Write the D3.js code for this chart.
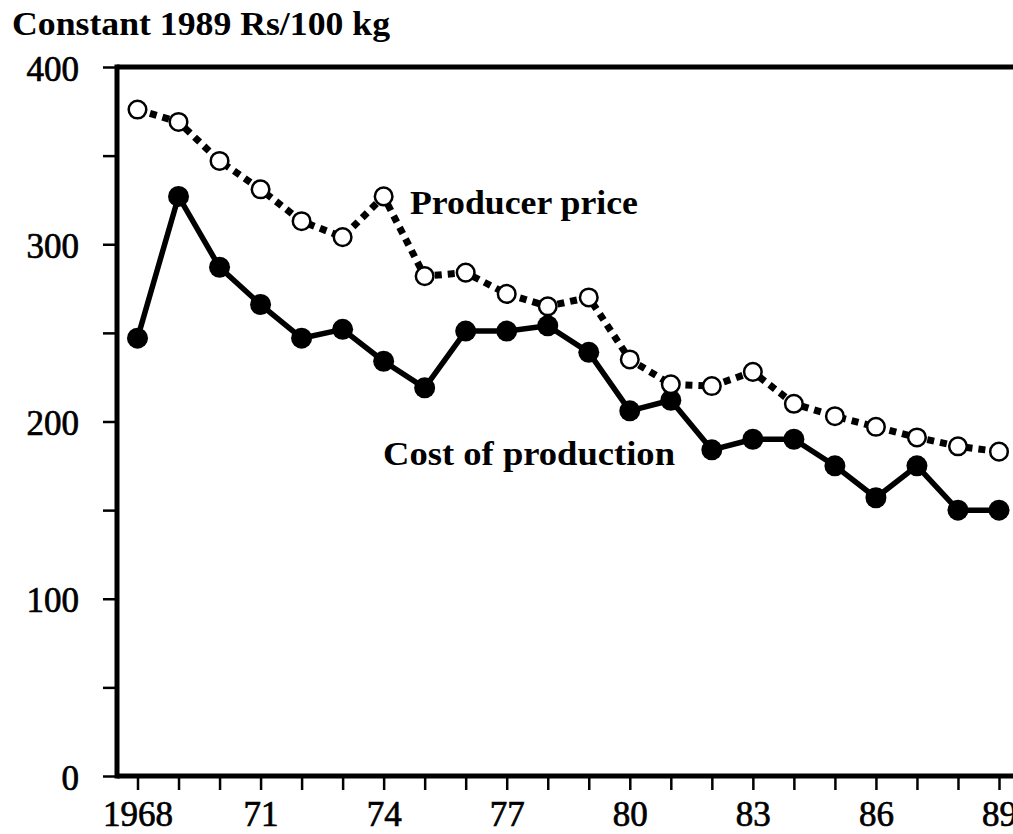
<!DOCTYPE html>
<html>
<head>
<meta charset="utf-8">
<script src="https://cdn.jsdelivr.net/npm/d3@7/dist/d3.min.js"></script>
<style>
    body { margin: 0; background: #fff; }
    text { font-family: "Liberation Serif", "Times New Roman", serif; fill: #000; }
</style>
</head>
<body>
<div id="jc-cost-price"></div>
<script>
'use strict';

let years = [1968, 1969, 1970, 1971, 1972, 1973, 1974, 1975, 1976, 1977, 1978,
    1979, 1980, 1981, 1982, 1983, 1984, 1985, 1986, 1987, 1988, 1989];
let producerPrice = [376, 369, 347, 331, 313, 304, 327, 282, 284, 272, 265,
    270, 235, 221, 220, 228, 210, 203, 197, 191, 186, 183];
let costOfProduction = [247, 327, 287, 266, 247, 252, 234, 219, 251, 251, 254,
    239, 206, 212, 184, 190, 190, 175, 157, 175, 150, 150];
let yTicks = [0, 50, 100, 150, 200, 250, 300, 350, 400];
let yLabelled = [0, 100, 200, 300, 400];
let xLabelYears = [1968, 1971, 1974, 1977, 1980, 1983, 1986, 1989];
let xLabelText = ['1968', '71', '74', '77', '80', '83', '86', '89'];

let width = 1013;
let height = 834;

draw();

function draw() {
    let svg = d3.select('#jc-cost-price')
        .append('svg')
        .attr('width', width)
        .attr('height', height)
        .style('display', 'block');

    let x = d3.scaleLinear().domain([1968, 1989]).range([137.5, 999]);
    let y = d3.scaleLinear().domain([0, 400]).range([776, 67]);
    let axisX = 117;

    // title
    svg.append('text')
        .attr('x', 12)
        .attr('y', 35)
        .attr('font-size', 34)
        .attr('font-weight', 'bold')
        .attr('textLength', 378)
        .attr('lengthAdjust', 'spacingAndGlyphs')
        .text('Constant 1989 Rs/100 kg');

    // y axis
    let yAxis = d3.axisLeft(y)
        .tickValues(yTicks)
        .tickSize(14)
        .tickPadding(24)
        .tickFormat(function (d) {
            return yLabelled.indexOf(d) >= 0 ? d : '';
        });
    let gy = svg.append('g')
        .attr('transform', 'translate(' + axisX + ',0)')
        .call(yAxis);
    gy.select('.domain').remove();
    gy.selectAll('line').attr('stroke', '#000').attr('stroke-width', 2.5);
    gy.selectAll('text')
        .attr('font-size', 35)
        .attr('font-family', '"Liberation Serif", serif')
        .attr('stroke', '#000')
        .attr('stroke-width', 0.7)
        .attr('dy', 13);

    // x axis
    let xAxis = d3.axisBottom(x)
        .tickValues(years)
        .tickSize(14)
        .tickFormat(function (d) {
            let i = xLabelYears.indexOf(d);
            return i >= 0 ? xLabelText[i] : '';
        });
    let gx = svg.append('g')
        .attr('transform', 'translate(0,' + y(0) + ')')
        .call(xAxis);
    gx.select('.domain').remove();
    gx.selectAll('line').attr('stroke', '#000').attr('stroke-width', 2.5);
    gx.selectAll('text')
        .attr('font-size', 35)
        .attr('font-family', '"Liberation Serif", serif')
        .attr('stroke', '#000')
        .attr('stroke-width', 0.7)
        .attr('y', 26)
        .attr('dy', 24);

    // frame: left, top and bottom
    svg.append('line')
        .attr('x1', axisX).attr('x2', axisX)
        .attr('y1', y(400) - 2.5).attr('y2', y(0) + 2.5)
        .attr('stroke', '#000').attr('stroke-width', 5);
    svg.append('line')
        .attr('x1', axisX).attr('x2', width)
        .attr('y1', y(400)).attr('y2', y(400))
        .attr('stroke', '#000').attr('stroke-width', 5);
    svg.append('line')
        .attr('x1', axisX).attr('x2', width)
        .attr('y1', y(0)).attr('y2', y(0))
        .attr('stroke', '#000').attr('stroke-width', 5);

    let priceData = years.map(function (yr, i) {
        return { year: yr, value: producerPrice[i] };
    });
    let costData = years.map(function (yr, i) {
        return { year: yr, value: costOfProduction[i] };
    });

    let line = d3.line()
        .x(function (d) { return x(d.year); })
        .y(function (d) { return y(d.value); });

    // producer price: dotted line, open circles
    svg.append('path')
        .datum(priceData)
        .attr('d', line)
        .attr('fill', 'none')
        .attr('stroke', '#000')
        .attr('stroke-width', 7)
        .attr('stroke-dasharray', '7,6');

    // cost of production: solid line, filled circles
    svg.append('path')
        .datum(costData)
        .attr('d', line)
        .attr('fill', 'none')
        .attr('stroke', '#000')
        .attr('stroke-width', 5.5)
        .attr('stroke-linejoin', 'round');

    svg.append('g')
        .selectAll('circle')
        .data(costData)
        .enter()
        .append('circle')
        .attr('cx', function (d) { return x(d.year); })
        .attr('cy', function (d) { return y(d.value); })
        .attr('r', 10.5)
        .attr('fill', '#000');

    svg.append('g')
        .selectAll('circle')
        .data(priceData)
        .enter()
        .append('circle')
        .attr('cx', function (d) { return x(d.year); })
        .attr('cy', function (d) { return y(d.value); })
        .attr('r', 8.8)
        .attr('fill', '#fff')
        .attr('stroke', '#000')
        .attr('stroke-width', 2.5);

    // series labels
    svg.append('text')
        .attr('x', 410)
        .attr('y', 214)
        .attr('font-size', 34)
        .attr('font-weight', 'bold')
        .attr('textLength', 228)
        .attr('lengthAdjust', 'spacingAndGlyphs')
        .text('Producer price');

    svg.append('text')
        .attr('x', 383)
        .attr('y', 465)
        .attr('font-size', 34)
        .attr('font-weight', 'bold')
        .attr('textLength', 292)
        .attr('lengthAdjust', 'spacingAndGlyphs')
        .text('Cost of production');
}
</script>
</body>
</html>
